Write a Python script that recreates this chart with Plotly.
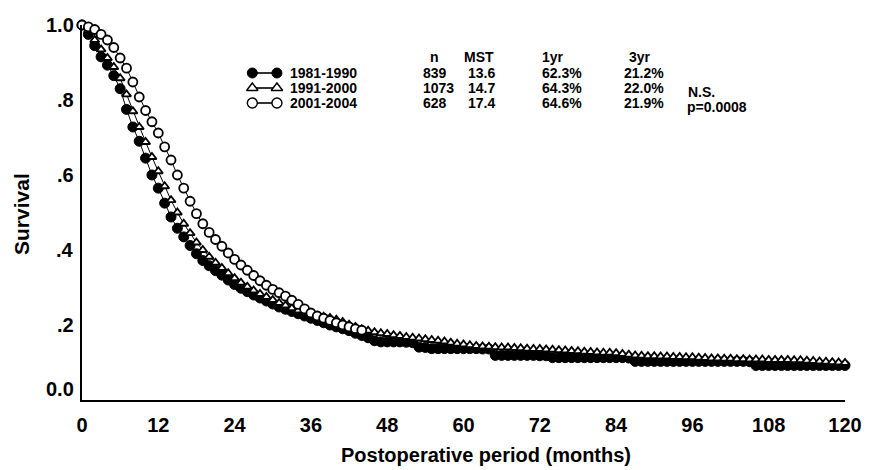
import plotly.graph_objects as go

# ---------------- data ----------------
months = list(range(0, 121))
surv_1981_1990 = [
    1.000, 0.975, 0.945, 0.915, 0.893, 0.865, 0.830, 0.775, 0.728, 0.690,
    0.645, 0.600, 0.565, 0.525, 0.488, 0.458, 0.435, 0.412, 0.390, 0.372,
    0.358, 0.345, 0.333, 0.320, 0.308, 0.298, 0.289, 0.280, 0.272, 0.264,
    0.256, 0.248, 0.242, 0.236, 0.230, 0.224, 0.218, 0.212, 0.206, 0.200,
    0.195, 0.190, 0.185, 0.178, 0.172, 0.166, 0.158, 0.155, 0.155, 0.155,
    0.155, 0.154, 0.153, 0.141, 0.140, 0.137, 0.137, 0.137, 0.137, 0.137,
    0.137, 0.137, 0.137, 0.136, 0.136, 0.119, 0.119, 0.119, 0.119, 0.119,
    0.119, 0.119, 0.118, 0.118, 0.113, 0.113, 0.113, 0.113, 0.113, 0.113,
    0.113, 0.113, 0.113, 0.113, 0.113, 0.113, 0.112, 0.103, 0.103, 0.103,
    0.103, 0.103, 0.103, 0.103, 0.103, 0.103, 0.103, 0.103, 0.103, 0.103,
    0.103, 0.103, 0.103, 0.103, 0.103, 0.102, 0.092, 0.092, 0.092, 0.092,
    0.092, 0.092, 0.092, 0.092, 0.092, 0.092, 0.092, 0.092, 0.092, 0.092,
    0.092,
]
surv_1991_2000 = [
    1.000, 0.985, 0.960, 0.935, 0.912, 0.888, 0.858, 0.815, 0.770, 0.728,
    0.688, 0.648, 0.610, 0.570, 0.533, 0.500, 0.470, 0.445, 0.420, 0.400,
    0.382, 0.366, 0.352, 0.338, 0.325, 0.313, 0.302, 0.292, 0.283, 0.275,
    0.267, 0.259, 0.252, 0.245, 0.239, 0.233, 0.228, 0.224, 0.222, 0.219,
    0.214, 0.208, 0.201, 0.195, 0.189, 0.185, 0.181, 0.178, 0.176, 0.173,
    0.171, 0.168, 0.166, 0.164, 0.162, 0.160, 0.158, 0.156, 0.153, 0.150,
    0.148, 0.146, 0.144, 0.143, 0.142, 0.141, 0.140, 0.140, 0.139, 0.138,
    0.137, 0.136, 0.136, 0.135, 0.134, 0.133, 0.132, 0.131, 0.130, 0.129,
    0.128, 0.127, 0.126, 0.126, 0.125, 0.123, 0.121, 0.119, 0.118, 0.117,
    0.117, 0.116, 0.116, 0.115, 0.115, 0.114, 0.114, 0.113, 0.112, 0.111,
    0.111, 0.110, 0.110, 0.109, 0.109, 0.108, 0.108, 0.108, 0.107, 0.107,
    0.107, 0.107, 0.106, 0.106, 0.105, 0.104, 0.103, 0.102, 0.101, 0.100,
    0.099,
]
months_2001_2004 = list(range(0, 45))
surv_2001_2004 = [
    1.000, 0.995, 0.988, 0.975, 0.960, 0.940, 0.912, 0.885, 0.848, 0.808,
    0.772, 0.742, 0.712, 0.675, 0.640, 0.600, 0.565, 0.530, 0.497, 0.470,
    0.447, 0.428, 0.410, 0.392, 0.375, 0.360, 0.346, 0.332, 0.318, 0.306,
    0.295, 0.286, 0.277, 0.266, 0.255, 0.243, 0.232, 0.224, 0.218, 0.212,
    0.206, 0.200, 0.195, 0.190, 0.186,
]

periods = ["1981-1990", "1991-2000", "2001-2004"]
n_patients = ["839", "1073", "628"]
mst_values = ["13.6", "14.7", "17.4"]
one_year = ["62.3%", "64.3%", "64.6%"]
three_year = ["21.2%", "22.0%", "21.9%"]
col_headers = ["n", "MST", "1yr", "3yr"]
stat_notes = ["N.S.", "p=0.0008"]

x_ticks = [0, 12, 24, 36, 48, 60, 72, 84, 96, 108, 120]
y_ticks = [0.0, 0.2, 0.4, 0.6, 0.8, 1.0]
y_tick_text = ["0.0", ".2", ".4", ".6", ".8", "1.0"]

x_title = "Postoperative period (months)"
y_title = "Survival"

# ---------------- layout constants ----------------
W, H = 874, 470
ML, MR, MT, MB = 82, 17, 25, 70
PW, PH = W - ML - MR, H - MT - MB
X_MAX = 120

FONT = "Liberation Sans, Arial, sans-serif"


def px_x(px):
    return (px - ML) / PW


def px_y(py):
    return (H - MB - py) / PH


def data_x(px):
    return px_x(px) * X_MAX


fig = go.Figure()

# curves: filled circles, open triangles, open circles
fig.add_trace(go.Scatter(
    x=months, y=surv_1981_1990, mode="lines+markers", cliponaxis=False,
    line=dict(color="black", width=1),
    marker=dict(symbol="circle", size=10, color="black",
                line=dict(color="black", width=1)),
    showlegend=False, hoverinfo="skip"))
fig.add_trace(go.Scatter(
    x=months, y=surv_1991_2000, mode="lines+markers", cliponaxis=False,
    line=dict(color="black", width=1),
    marker=dict(symbol="triangle-up", size=8, color="white",
                line=dict(color="black", width=1.8)),
    showlegend=False, hoverinfo="skip"))
fig.add_trace(go.Scatter(
    x=months_2001_2004, y=surv_2001_2004, mode="lines+markers", cliponaxis=False,
    line=dict(color="black", width=1),
    marker=dict(symbol="circle", size=9, color="white",
                line=dict(color="black", width=1.8)),
    showlegend=False, hoverinfo="skip"))

# legend keys (drawn as small marker pairs)
row_y = [73, 88, 103]
key_x = [255, 280]
key_styles = [
    dict(symbol="circle", size=10, color="black", line=dict(color="black", width=1)),
    dict(symbol="triangle-up", size=10, color="white", line=dict(color="black", width=1.4)),
    dict(symbol="circle", size=10, color="white", line=dict(color="black", width=1.4)),
]
for ry, st in zip(row_y, key_styles):
    fig.add_trace(go.Scatter(
        x=[data_x(k) for k in key_x], y=[px_y(ry)] * 2,
        mode="lines+markers", cliponaxis=False,
        line=dict(color="black", width=1.6), marker=st,
        showlegend=False, hoverinfo="skip"))

annotations = []
tfont = dict(family=FONT, size=14, color="black", weight="bold")


def add_text(text, px, py, anchor="left", font=tfont, **kw):
    annotations.append(dict(
        text=text, x=px_x(px), y=px_y(py), xref="paper", yref="paper",
        xanchor=anchor, yanchor="middle", showarrow=False, font=font,
        borderpad=0, **kw))


# header
header_x = [440, 485, 560, 649]
for h, hx in zip(col_headers, header_x):
    add_text(h, hx, 57, anchor="center")

for i, ry in enumerate(row_y):
    add_text(periods[i], 292, ry)
    add_text(n_patients[i], 427, ry)
    add_text(mst_values[i], 473, ry)
    add_text(one_year[i], 548, ry)
    add_text(three_year[i], 632, ry)

add_text(stat_notes[0], 697, 92)
add_text(stat_notes[1], 695, 107)

# y tick labels
tickfont = dict(family=FONT, size=20, color="black", weight="bold")
for v, t in zip(y_ticks, y_tick_text):
    annotations.append(dict(
        text=t, x=0, y=v, xref="paper", yref="y",
        xanchor="right", yanchor="middle", xshift=-6,
        yshift=11 if v == 0 else 0, showarrow=False, font=tickfont))

# axis titles
annotations.append(dict(
    text=x_title, x=px_x(492), y=px_y(455), xref="paper", yref="paper",
    xanchor="center", yanchor="middle", showarrow=False,
    font=dict(family=FONT, size=20, color="black", weight="bold")))
annotations.append(dict(
    text=y_title, x=px_x(20), y=px_y(214), xref="paper", yref="paper",
    xanchor="center", yanchor="middle", showarrow=False, textangle=-90,
    font=dict(family=FONT, size=21, color="black", weight="bold")))

fig.update_layout(
    width=W, height=H,
    margin=dict(l=ML, r=MR, t=MT, b=MB),
    paper_bgcolor="white", plot_bgcolor="white",
    annotations=annotations,
    xaxis=dict(range=[0, X_MAX], tickvals=x_ticks, ticks="", showgrid=False,
               zeroline=False, showline=True, linecolor="black", linewidth=2,
               tickfont=tickfont, ticklabelstandoff=6, fixedrange=True),
    yaxis=dict(range=[0, 1.0], tickvals=y_ticks, showticklabels=False, ticks="",
               showgrid=False, zeroline=False, showline=True, linecolor="black",
               linewidth=2, fixedrange=True),
)

fig.write_html("out.html", config={"displayModeBar": False},
               post_script="document.body.style.margin='0';")
